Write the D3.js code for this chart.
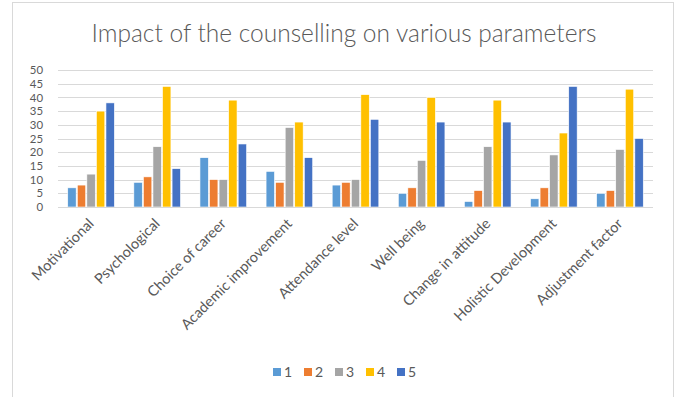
<!DOCTYPE html>
<html>
<head>
<meta charset="utf-8">
<script src="https://cdn.jsdelivr.net/npm/d3@7"></script>
<style>
  html, body { margin: 0; padding: 0; background: #fff; }
  svg { display: block; font-family: Lato, "Open Sans", sans-serif; }
</style>
</head>
<body>
<svg id="chart" width="680" height="397"></svg>
<script>
// Parameters assessed after counselling
const categories = ["Motivational", "Psychological", "Choice of career", "Academic improvement",
  "Attendance level", "Well being", "Change in attitude", "Holistic Development", "Adjustment factor"];
// Rating levels (legend entries)
const seriesNames = ["1", "2", "3", "4", "5"];
// Number of responses for each rating, per parameter
const rating1 = [7, 9, 18, 13, 8, 5, 2, 3, 5];
const rating2 = [8, 11, 10, 9, 9, 7, 6, 7, 6];
const rating3 = [12, 22, 10, 29, 10, 17, 22, 19, 21];
const rating4 = [35, 44, 39, 31, 41, 40, 39, 27, 43];
const rating5 = [38, 14, 23, 18, 32, 31, 31, 44, 25];
const yTicks = [0, 5, 10, 15, 20, 25, 30, 35, 40, 45, 50];
const colors = ["#5B9BD5", "#ED7D31", "#A5A5A5", "#FFC000", "#4472C4"];

const series = [rating1, rating2, rating3, rating4, rating5];
const textColor = "#595959";

const svg = d3.select("#chart");

// chart frame
svg.append("rect")
  .attr("x", 12.5).attr("y", 2.5)
  .attr("width", 661).attr("height", 410)
  .attr("fill", "#fff").attr("stroke", "#D9D9D9").attr("stroke-width", 1);

const plot = { left: 58, right: 653, top: 70, bottom: 207 };

const x0 = d3.scaleBand().domain(categories)
  .range([plot.left, plot.right]).paddingInner(0.26).paddingOuter(0.13);
const x1 = d3.scaleBand().domain(seriesNames)
  .range([0, x0.bandwidth()]).padding(0.12);
const y = d3.scaleLinear().domain([0, 50]).range([plot.bottom, plot.top]);

// title
svg.append("text")
  .attr("x", 344).attr("y", 42)
  .attr("text-anchor", "middle")
  .attr("font-size", 24.5).attr("font-weight", 300).attr("fill", textColor)
  .text("Impact of the counselling on various parameters");

// gridlines
svg.append("g").selectAll("line").data(yTicks).join("line")
  .attr("x1", plot.left).attr("x2", plot.right)
  .attr("y1", d => Math.round(y(d)) + 0.5).attr("y2", d => Math.round(y(d)) + 0.5)
  .attr("stroke", "#D9D9D9").attr("stroke-width", 1);

// y axis labels
const yAxis = d3.axisLeft(y).tickValues(yTicks).tickSize(0).tickPadding(0);
const yg = svg.append("g").attr("transform", `translate(${plot.left - 15},0)`).call(yAxis);
yg.select(".domain").remove();
yg.selectAll("text").attr("font-size", 11.4).attr("fill", textColor)
  .attr("font-family", "Lato, 'Open Sans', sans-serif");

// bars
const groups = svg.append("g").selectAll("g").data(categories).join("g")
  .attr("transform", d => `translate(${x0(d)},0)`);
groups.selectAll("rect")
  .data((c, i) => series.map((s, k) => ({ key: seriesNames[k], value: s[i], color: colors[k] })))
  .join("rect")
  .attr("x", d => x1(d.key))
  .attr("y", d => y(d.value))
  .attr("width", x1.bandwidth())
  .attr("height", d => y(0) - y(d.value))
  .attr("fill", d => d.color)
  .attr("stroke", "#fff").attr("stroke-width", 0.6);

// x axis baseline
svg.append("line")
  .attr("x1", plot.left).attr("x2", plot.right)
  .attr("y1", plot.bottom + 0.5).attr("y2", plot.bottom + 0.5)
  .attr("stroke", "#D9D9D9");

// category labels, rotated
const xAxis = d3.axisBottom(x0).tickSize(0).tickPadding(0);
const xg = svg.append("g").attr("transform", `translate(0,${plot.bottom + 14})`).call(xAxis);
xg.select(".domain").remove();
xg.selectAll("text")
  .attr("font-size", 14.5).attr("fill", textColor)
  .attr("font-family", "Lato, 'Open Sans', sans-serif")
  .attr("text-anchor", "end")
  .attr("dy", "0.35em")
  .attr("transform", "translate(0,0) rotate(-45)");

// legend
const legend = svg.append("g").attr("transform", "translate(273,367)");
const item = legend.selectAll("g").data(seriesNames).join("g")
  .attr("transform", (d, i) => `translate(${i * 31},0)`);
item.append("rect").attr("width", 8).attr("height", 8).attr("y", 1)
  .attr("fill", (d, i) => colors[i]);
item.append("text").attr("x", 11).attr("y", 10)
  .attr("font-size", 14).attr("fill", textColor).text(d => d);
</script>
</body>
</html>
